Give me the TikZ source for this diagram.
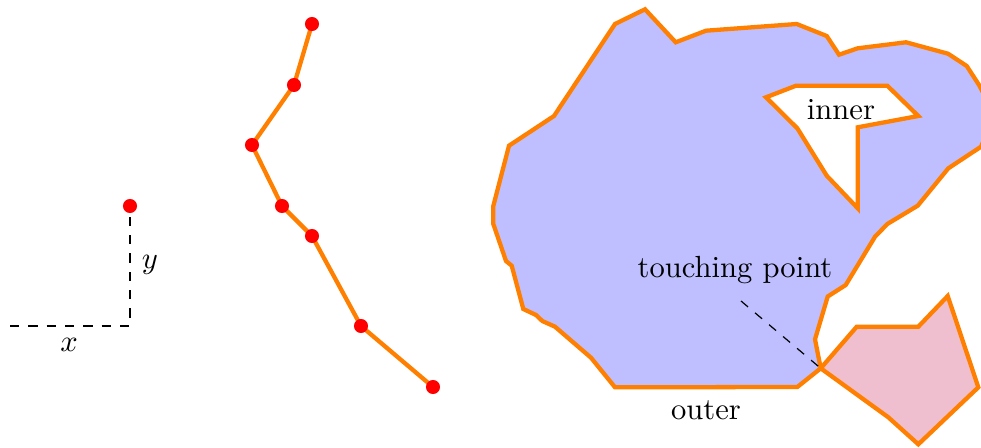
\documentclass[tikz,border=0pt]{standalone}
\usetikzlibrary{backgrounds}
\begin{document}
\begin{tikzpicture}[x=0.327pt,y=-0.327pt,
  edge/.style={orange, line width=1.4pt},
  dot/.style={circle, fill=red, inner sep=0pt, minimum size=4.6pt},
  guide/.style={dashed, black, line width=0.4pt}]
\useasboundingbox (0,0) rectangle (981,447);
% left: coordinate sketch
\coordinate (o) at (130,326);
\coordinate (xs) at (10,326);
\node[dot] (p) at (130,206) {};
\begin{scope}[on background layer]
\draw[guide] (xs) -- (o) -- (p.center);
\end{scope}
\node (xl) at (69,345) {$x$};
\node (yl) at (150,265) {$y$};
% middle: polyline
\node[dot] (a1) at (312,24) {};
\node[dot] (a2) at (294,85) {};
\node[dot] (a3) at (252,145) {};
\node[dot] (a4) at (282,206) {};
\node[dot] (a5) at (312,236) {};
\node[dot] (a6) at (361,326) {};
\node[dot] (a7) at (433,387) {};
\begin{scope}[on background layer]
\draw[edge] (a1.center) -- (a2.center) -- (a3.center) -- (a4.center) -- (a5.center) -- (a6.center) -- (a7.center);
\end{scope}
% right: polygons
\begin{scope}
\clip (0,0) rectangle (981,447);
\filldraw[edge, fill=blue!25, even odd rule]
  (615,24) -- (645,9.3) -- (675.7,42.3) -- (706,30.7) -- (796.7,24) -- (826.7,36) -- (839,54.7) -- (857.7,48.3) -- (906,42.3) -- (948,53.7) -- (966.7,66) -- (979,85) -- (995,115) -- (981,146.7) -- (948.3,168.3) -- (917.7,205.7) -- (887.3,224) -- (875,236.7) -- (845.7,285) -- (827.7,296.5) -- (815,339.3) -- (820.7,368.3) -- (797.3,387) -- (615,387.3) -- (591,357.7) -- (555,326.7) -- (542.3,321) -- (536,315) -- (523.3,309) -- (511.7,265.7) -- (506,261) -- (493.3,224) -- (493.3,206) -- (509,145.7) -- (554,116) -- cycle
  (766,97.3) -- (796,85.7) -- (887.3,85.7) -- (918.3,116) -- (857.7,127.3) -- (857.7,208.3) -- (826.7,175.7) -- (797.3,128.3) -- cycle;
\filldraw[edge, fill=purple!25]
  (820.7,368.3) -- (856.7,326.7) -- (918.3,326.7) -- (947.7,296) -- (978.3,387.3) -- (918.3,444.3) -- (888.3,417.3) -- cycle;
\end{scope}
\node (inner) at (841,110) {inner};
\node (outer) at (706,410) {outer};
\node (touch) at (735,270) {touching point};
\coordinate (ts) at (741,301);
\coordinate (tp) at (820.7,368.3);
\draw[guide] (ts) -- (tp);
\end{tikzpicture}
\end{document}
